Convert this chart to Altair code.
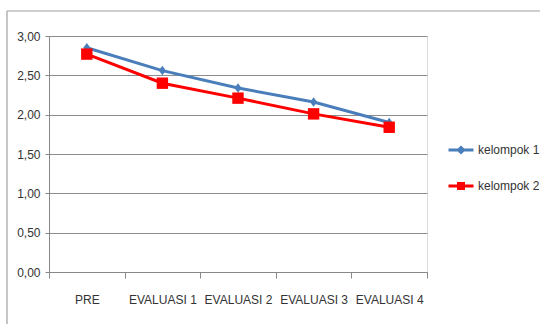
import altair as alt
import pandas as pd

categories = ["PRE", "EVALUASI 1", "EVALUASI 2", "EVALUASI 3", "EVALUASI 4"]
kelompok1 = [2.85, 2.56, 2.34, 2.16, 1.90]
kelompok2 = [2.77, 2.40, 2.21, 2.01, 1.84]
series_names = ["kelompok 1", "kelompok 2"]
colors = ["#4A7EBB", "#FF0000"]

rows = []
for name, vals in zip(series_names, [kelompok1, kelompok2]):
    for c, v in zip(categories, vals):
        rows.append({"cat": c, "value": v, "series": name})
df = pd.DataFrame(rows)

FONT = "Liberation Sans, Arial, sans-serif"

marker_shapes = ["M0,-1L0.75,0L0,1L-0.75,0Z", "M-1,-1H1V1H-1Z"]
# legend symbols: a line with a (stroke-filled) marker on it
legend_shapes = [
    "M-1,0H1M0,-0.2L0.2,0L0,0.2L-0.2,0ZM0,-0.08L0.08,0L0,0.08L-0.08,0Z",
    "M-1,0H1M-0.2,-0.2H0.2V0.2H-0.2ZM-0.08,-0.08H0.08V0.08H-0.08Z",
]

x_enc = alt.X("cat:N", sort=categories, title=None,
              scale=alt.Scale(paddingInner=0, paddingOuter=0),
              axis=alt.Axis(labelAngle=0, tickBand="extent", tickSize=6,
                            labelPadding=16, labelFont=FONT, labelFontSize=12,
                            labelColor="#333", domainColor="#888", tickColor="#888",
                            grid=False))
y_enc = alt.Y("value:Q", title=None,
              scale=alt.Scale(domain=[0, 3], nice=False),
              axis=alt.Axis(values=[0, 0.5, 1, 1.5, 2, 2.5, 3],
                            labelExpr="replace(format(datum.value, '.2f'), '.', ',')",
                            tickSize=4, labelPadding=5, labelFont=FONT, labelFontSize=12,
                            labelColor="#333", domainColor="#888", tickColor="#888",
                            gridColor="#8c8c8c", gridWidth=1.2))

color_scale = alt.Scale(domain=series_names, range=colors)

leg = alt.Legend(title=None, orient="none", legendX=398, legendY=100,
                 symbolOpacity=1, symbolStrokeWidth=3, symbolSize=625,
                 rowPadding=13, labelOffset=3, labelFont=FONT,
                 labelFontSize=12, labelColor="#333")

base = alt.Chart(df)

lines = base.mark_line(strokeWidth=3).encode(
    x=x_enc, y=y_enc,
    color=alt.Color("series:N", scale=color_scale, legend=leg),
)

points1 = base.transform_filter(alt.datum.series == series_names[0]).mark_point(
    filled=True, opacity=1, size=90, shape=marker_shapes[0], color=colors[0]
).encode(x=x_enc, y=y_enc)

points2 = base.transform_filter(alt.datum.series == series_names[1]).mark_point(
    filled=True, opacity=1, size=130, shape=marker_shapes[1], color=colors[1]
).encode(x=x_enc, y=y_enc)

legend_layer = base.mark_point(filled=False, opacity=0, size=625, strokeWidth=3).encode(
    x=x_enc, y=y_enc,
    color=alt.Color("series:N", scale=color_scale, legend=leg),
    shape=alt.Shape("series:N", scale=alt.Scale(domain=series_names, range=legend_shapes), legend=leg),
)

frame_left = alt.Chart(pd.DataFrame({"a": [0]})).mark_rule(color="#a0a0a0", strokeWidth=1.2).encode(
    x=alt.value(-42), y=alt.value(-25), y2=alt.value(300))
frame_top = alt.Chart(pd.DataFrame({"a": [0]})).mark_rule(color="#a0a0a0", strokeWidth=1.2).encode(
    x=alt.value(-42), x2=alt.value(500), y=alt.value(-25))

chart = alt.layer(frame_left, frame_top, lines, points1, points2, legend_layer).properties(
    width=378, height=236,
    autosize=alt.AutoSizeParams(type="none"),
    padding={"left": 49, "top": 36, "right": 113, "bottom": 52},
).configure_view(stroke=None).configure(background="white")

chart.save("out.html", embed_options={"renderer": "svg", "actions": False})
